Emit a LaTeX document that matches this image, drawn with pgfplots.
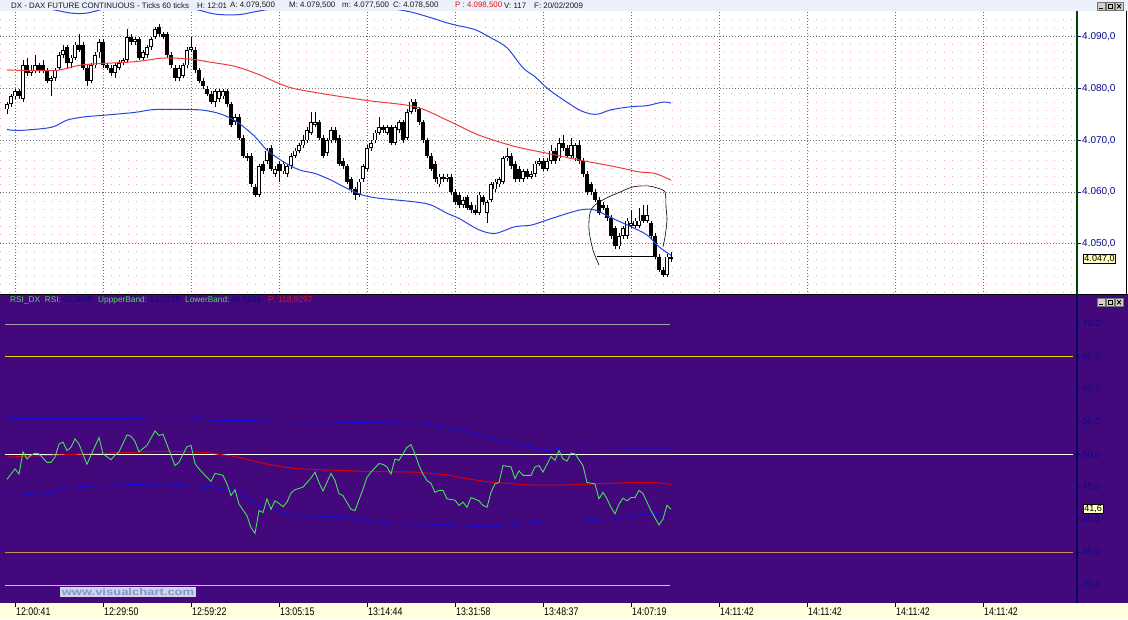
\documentclass[border=0pt]{standalone}
\usepackage{pgfplots}
\pgfplotsset{compat=1.18}
\usepackage{pgfplotstable}
\usepackage{fontspec}
\usepackage{graphicx}
\setmainfont{Liberation Sans}
\newfontfamily\narrowfont[FakeStretch=0.8]{Liberation Sans}

\definecolor{titlebg}{RGB}{236,240,250}
\definecolor{purp}{RGB}{66,8,124}
\definecolor{ystrip}{RGB}{255,255,222}
\definecolor{navy}{RGB}{10,10,140}
\definecolor{gridgray}{RGB}{110,110,110}
\definecolor{pinkdot}{RGB}{240,160,205}
\definecolor{mared}{RGB}{240,60,60}
\definecolor{bandblue}{RGB}{40,70,225}
\definecolor{rsigreen}{RGB}{70,225,90}
\definecolor{rsired}{RGB}{215,0,10}
\definecolor{rsiblue}{RGB}{15,15,215}
\definecolor{lvlgray}{RGB}{160,160,170}
\definecolor{lvlyellow}{RGB}{230,210,0}
\definecolor{lvltan}{RGB}{200,140,90}
\definecolor{lvllav}{RGB}{190,190,255}
\definecolor{lblgreen}{RGB}{80,220,100}
\definecolor{btn}{RGB}{212,208,200}
\definecolor{boxy}{RGB}{255,255,190}
\definecolor{pred}{RGB}{230,20,20}

\pgfplotstableread{
i O H L C
0 4076.0 4077.5 4075.0 4077.0
1 4077.0 4079.0 4076.5 4078.5
2 4078.5 4080.0 4078.0 4079.5
3 4079.5 4080.0 4078.0 4078.5
4 4078.0 4085.5 4077.5 4084.5
5 4084.5 4086.0 4082.5 4083.0
6 4083.0 4084.5 4082.5 4083.5
7 4083.5 4086.5 4083.0 4084.5
8 4084.5 4085.0 4083.0 4083.5
9 4084.5 4085.5 4083.0 4083.5
10 4083.5 4084.0 4081.0 4081.5
11 4081.5 4082.5 4078.5 4082.0
12 4082.0 4084.0 4081.5 4083.5
13 4084.0 4087.0 4083.5 4086.5
14 4086.5 4088.5 4086.0 4087.5
15 4088.0 4088.5 4084.0 4085.0
16 4085.0 4086.5 4084.0 4086.0
17 4086.0 4089.0 4085.5 4088.5
18 4088.5 4090.5 4087.0 4087.5
19 4088.5 4089.0 4083.5 4084.0
20 4084.0 4084.5 4080.5 4081.5
21 4081.5 4085.0 4081.0 4084.5
22 4084.5 4087.0 4084.0 4086.5
23 4087.0 4089.5 4086.0 4089.0
24 4089.0 4089.5 4084.0 4084.5
25 4084.5 4085.0 4083.5 4084.0
26 4084.0 4084.5 4082.5 4083.0
27 4083.0 4085.0 4082.0 4084.5
28 4084.0 4085.5 4083.5 4085.0
29 4085.0 4086.0 4084.5 4085.5
30 4085.5 4091.5 4085.0 4090.0
31 4090.0 4090.5 4088.5 4089.0
32 4089.0 4090.0 4088.5 4089.5
33 4089.5 4090.0 4085.5 4086.0
34 4086.0 4087.5 4085.5 4087.0
35 4086.5 4088.5 4086.0 4088.0
36 4088.0 4090.0 4087.5 4089.5
37 4090.0 4092.0 4089.5 4091.5
38 4092.0 4092.5 4090.0 4090.5
39 4090.5 4091.0 4089.5 4090.0
40 4090.5 4091.0 4086.0 4086.5
41 4086.5 4087.0 4084.0 4084.5
42 4084.0 4084.5 4081.5 4082.0
43 4082.0 4084.5 4081.5 4084.0
44 4082.5 4085.0 4082.0 4084.5
45 4084.5 4088.0 4084.0 4087.5
46 4087.5 4090.0 4087.0 4088.0
47 4087.5 4088.0 4083.0 4083.5
48 4083.5 4084.0 4081.0 4081.5
49 4081.5 4082.0 4080.0 4080.5
50 4080.0 4080.5 4078.5 4079.0
51 4079.0 4079.5 4077.0 4077.5
52 4077.5 4080.0 4076.5 4079.5
53 4078.0 4080.0 4077.5 4079.5
54 4078.5 4080.0 4078.0 4079.5
55 4079.5 4080.0 4076.5 4077.0
56 4077.0 4077.5 4072.5 4073.0
57 4073.5 4075.0 4073.0 4074.5
58 4074.5 4075.0 4070.0 4070.5
59 4070.5 4071.0 4066.5 4067.0
60 4067.0 4067.5 4066.0 4066.5
61 4067.0 4067.5 4061.0 4061.5
62 4061.0 4061.5 4059.0 4059.5
63 4059.5 4065.5 4059.0 4065.0
64 4065.5 4066.0 4063.5 4064.0
65 4066.0 4068.5 4065.5 4068.0
66 4068.5 4069.0 4064.0 4064.5
67 4063.5 4065.0 4063.0 4064.5
68 4065.5 4066.0 4062.0 4064.0
69 4064.0 4066.0 4063.5 4065.5
70 4063.5 4065.5 4063.0 4065.0
71 4065.0 4067.5 4064.5 4067.0
72 4067.0 4068.5 4066.5 4068.0
73 4068.0 4069.5 4067.5 4069.0
74 4069.0 4071.0 4068.5 4070.0
75 4070.0 4072.5 4069.5 4072.0
76 4071.5 4075.5 4071.0 4073.5
77 4073.0 4075.5 4072.5 4073.5
78 4073.5 4074.0 4070.0 4070.5
79 4070.5 4071.0 4066.5 4067.0
80 4067.5 4070.5 4067.0 4070.0
81 4070.0 4072.5 4069.5 4072.0
82 4072.0 4072.5 4069.5 4070.0
83 4070.5 4071.0 4065.0 4065.5
84 4066.0 4066.5 4064.5 4065.0
85 4065.0 4065.5 4061.5 4062.0
86 4062.5 4063.0 4060.0 4060.5
87 4060.5 4061.0 4058.5 4059.5
88 4059.5 4062.5 4059.0 4062.0
89 4062.5 4065.5 4062.0 4065.0
90 4064.5 4069.0 4064.0 4068.5
91 4068.5 4070.0 4068.0 4069.5
92 4070.0 4072.0 4069.5 4071.5
93 4071.5 4074.5 4071.0 4072.5
94 4072.5 4073.0 4071.5 4072.0
95 4071.5 4073.0 4071.0 4072.5
96 4072.5 4073.0 4069.0 4069.5
97 4069.5 4073.0 4069.0 4072.5
98 4072.0 4074.0 4071.5 4073.5
99 4073.5 4074.0 4069.5 4070.0
100 4070.5 4076.0 4070.0 4075.5
101 4075.5 4078.0 4075.0 4077.5
102 4077.5 4078.0 4075.5 4076.0
103 4076.0 4076.5 4073.0 4073.5
104 4073.5 4074.0 4069.5 4070.0
105 4070.0 4070.5 4066.5 4067.0
106 4067.0 4067.5 4064.0 4064.5
107 4065.5 4066.0 4062.0 4062.5
108 4061.5 4063.5 4061.0 4063.0
109 4063.0 4063.5 4062.0 4062.5
110 4062.5 4063.5 4062.0 4063.0
111 4063.0 4063.5 4059.5 4060.0
112 4060.0 4060.5 4057.5 4058.0
113 4059.5 4060.0 4057.0 4057.5
114 4057.5 4059.0 4057.0 4058.5
115 4059.0 4059.5 4056.5 4057.0
116 4057.5 4058.0 4056.0 4056.5
117 4056.5 4057.5 4055.5 4056.0
118 4056.0 4060.0 4055.5 4059.5
119 4059.0 4059.5 4057.5 4058.0
120 4056.0 4058.5 4054.0 4058.0
121 4058.5 4062.0 4058.0 4061.5
122 4060.5 4062.5 4060.0 4062.0
123 4061.5 4063.0 4061.0 4062.5
124 4062.0 4067.0 4061.5 4066.5
125 4066.5 4068.5 4066.0 4067.0
126 4067.0 4067.5 4064.5 4065.0
127 4065.5 4066.0 4062.0 4062.5
128 4064.5 4065.0 4062.0 4062.5
129 4062.5 4064.5 4062.0 4064.0
130 4064.0 4064.5 4062.5 4063.0
131 4063.0 4064.0 4062.5 4063.5
132 4063.5 4066.0 4063.0 4065.5
133 4065.5 4066.5 4065.0 4066.0
134 4066.0 4066.5 4064.0 4064.5
135 4064.5 4066.5 4064.0 4066.0
136 4066.0 4069.0 4065.5 4068.0
137 4068.0 4068.5 4065.5 4066.0
138 4066.5 4070.5 4066.0 4069.5
139 4069.5 4071.0 4068.0 4068.5
140 4068.5 4069.0 4066.5 4067.0
141 4067.0 4070.5 4066.5 4069.0
142 4066.5 4069.5 4066.0 4069.0
143 4069.0 4070.0 4065.5 4066.0
144 4066.0 4066.5 4063.0 4063.5
145 4063.5 4064.0 4059.5 4060.0
146 4061.5 4062.0 4059.5 4060.0
147 4060.0 4060.5 4058.0 4058.5
148 4058.5 4059.0 4055.5 4056.0
149 4057.5 4058.0 4056.5 4057.0
150 4057.0 4057.5 4054.5 4055.0
151 4055.0 4055.5 4051.0 4051.5
152 4053.0 4053.5 4049.0 4049.5
153 4049.5 4052.0 4049.0 4051.5
154 4051.5 4053.5 4051.0 4053.0
155 4051.5 4055.0 4051.0 4054.5
156 4053.5 4056.5 4053.0 4054.0
157 4053.5 4055.0 4053.0 4054.5
158 4053.5 4057.0 4053.0 4054.5
159 4055.5 4057.5 4054.0 4054.5
160 4054.5 4057.5 4054.0 4055.5
161 4054.0 4054.5 4051.0 4051.5
162 4051.5 4052.0 4047.0 4047.5
163 4047.5 4048.0 4044.5 4045.0
164 4045.0 4045.5 4043.5 4044.0
165 4044.0 4048.0 4043.5 4047.5
166 4047.5 4048.5 4046.5 4047.0
}\candles

\pgfplotstableread{
i v
0 46.2
2 47.8
3 47.0
4 50.4
5 49.3
6 49.9
7 50.2
8 50.1
10 48.8
11 48.8
12 49.6
13 51.6
14 51.9
15 50.6
16 51.1
17 52.4
18 51.6
20 48.5
21 49.9
23 52.6
24 50.1
26 49.2
27 49.9
28 50.4
30 53.0
31 52.8
32 52.0
33 50.4
35 51.4
37 53.6
38 52.9
39 53.1
41 49.9
42 48.3
43 48.8
45 51.2
46 51.4
47 48.6
48 47.8
50 46.5
51 45.9
52 47.1
54 46.8
55 45.5
56 43.7
57 44.6
58 42.4
60 40.6
61 38.8
62 37.9
63 41.4
64 41.1
65 43.2
66 41.6
67 42.9
68 42.5
69 42.0
70 42.7
71 44.1
72 44.6
74 45.0
76 46.4
77 47.3
78 45.7
79 44.4
81 47.1
82 46.0
83 44.0
84 43.7
86 41.6
87 41.4
89 44.7
90 46.5
91 47.3
93 48.6
94 48.5
95 48.1
96 47.0
97 49.3
98 49.1
99 50.1
100 51.1
101 51.5
102 50.1
103 48.3
104 47.0
105 46.0
106 45.6
107 44.2
108 44.5
109 44.5
110 43.2
112 43.0
113 42.2
114 42.7
115 41.9
116 43.4
118 42.9
119 42.2
120 41.9
121 44.2
122 45.5
123 45.7
124 48.3
126 48.1
127 46.3
128 47.5
129 46.8
131 46.8
132 48.1
133 48.3
134 47.3
136 49.7
137 49.1
138 50.6
139 49.3
140 49.0
141 50.2
142 50.1
144 48.3
145 45.7
147 45.5
148 43.2
149 44.2
150 43.2
151 41.9
152 40.9
153 42.4
154 43.3
155 42.9
156 43.4
157 43.4
158 44.5
159 44.0
160 42.7
161 41.4
163 39.2
164 40.1
165 42.2
166 41.6
}\rsi

\begin{document}
\begin{tikzpicture}[x=1pt,y=1pt]
\useasboundingbox (0,0) rectangle (1128,619);
\fill[white] (0,0) rectangle (1128,619);
\fill[titlebg] (0,608) rectangle (1128,619);
\fill[purp] (0,16) rectangle (1128,324);
\fill[ystrip] (0,0) rectangle (1128,16);
\coordinate (pricepos) at (0,324);
\coordinate (rsipos) at (0,16);

% ---------------- price panel ----------------
\begin{axis}[
  at={(pricepos)}, anchor=south west, scale only axis,
  width=1077pt, height=284pt,
  y coord trafo/.code={\pgfmathparse{#1-4000}},
  y coord inv trafo/.code={\pgfmathparse{#1+4000}},
  xmin=-1.75, xmax=267.5, ymin=4040.1, ymax=4095.0,
  axis line style={draw=none},
  xtick={2,24,46,68,90,112,134,156,178,200,222,244}, xticklabels={}, xtick style={draw=none},
  ytick={4050,4060,4070,4080,4090}, ytick pos=right, yticklabel pos=right,
  minor ytick={4040.6,4042.2,4043.8,4045.4,4047.0,4048.6,4050.2,4051.8,4053.4,4055.0,4056.6,4058.2,4059.8,4061.4,4063.0,4064.6,4066.2,4067.8,4069.4,4071.0,4072.6,4074.2,4075.8,4077.4,4079.0,4080.6,4082.2,4083.8,4085.4,4087.0,4088.6,4090.2,4091.8,4093.4},
  xmajorgrids, ymajorgrids, yminorgrids,
  major grid style={draw=gridgray, dash pattern=on 1pt off 2pt, line width=0.8pt},
  minor grid style={draw=pinkdot, dash pattern=on 1pt off 7.5pt, line width=0.9pt},
  minor tick length=0pt, major tick length=4pt, tick align=outside,
  ytick style={draw=navy, line width=0.8pt},
  scaled y ticks=false,
  yticklabel style={font=\fontsize{10}{10}\selectfont, text=navy, anchor=west, inner sep=1pt,
    /pgf/number format/.cd, fixed, fixed zerofill, precision=1, use comma, 1000 sep={.}, assume math mode=true},
]
% wicks
\addplot[black, line width=0.8pt, mark=none, forget plot,
  quiver={u=0, v={\thisrow{H}-\thisrow{L}}}]
  table[x=i, y=L] {\candles};
% bodies (black)
\addplot[black, line width=3.4pt, mark=none, forget plot,
  quiver={u=0, v={abs(\thisrow{C}-\thisrow{O})}}]
  table[x=i, y expr={min(\thisrow{O},\thisrow{C})}] {\candles};
% white interior of rising bodies
\addplot[white, line width=1.5pt, mark=none, forget plot,
  quiver={u=0, v={max(\thisrow{C}-\thisrow{O}-0.3,0)}}]
  table[x=i, y expr={\thisrow{O}+0.15}] {\candles};
% moving average
\addplot[mared, line width=1pt, smooth, mark=none] coordinates {
(0,4083.6) (12,4083.5) (19,4084.6) (32,4085.2) (39,4085.9) (46,4085.7) (50,4085.2)
(57,4084.3) (63,4082.7) (68,4081.0) (73,4079.8) (89,4077.8) (102,4076.5) (110,4073.9)
(118,4071.0) (127,4068.8) (135,4067.5) (143,4066.2) (152,4064.9) (158,4063.9) (162,4063.6) (166,4062.3)};
% lower band
\addplot[bandblue, line width=1pt, smooth, mark=none] coordinates {
(0,4072.1) (3,4071.9) (11,4072.5) (15,4073.9) (19,4074.5) (25,4074.9) (32,4075.4) (36,4075.9)
(40,4076.0) (48,4075.9) (52,4075.4) (55,4074.6) (58,4073.3) (62,4070.7) (65,4068.1) (69,4065.9)
(73,4064.3) (77,4063.6) (81,4062.3) (85,4060.7) (89,4059.4) (93,4058.8) (102,4058.1) (106,4057.5)
(110,4055.9) (113,4054.9) (118,4052.7) (122,4052.0) (127,4053.3) (131,4053.6) (135,4054.6)
(139,4055.6) (143,4056.5) (146,4056.7) (148,4056.2) (152,4054.7) (156,4053.3) (160,4051.7)
(163,4049.4) (166,4047.8)};
% upper band
\addplot[bandblue, line width=1pt, smooth, mark=none] coordinates {
(0,4097.0) (10,4095.5) (16,4094.6) (20,4094.6) (25,4095.5) (35,4096.5) (46,4095.5) (52,4094.4)
(58,4094.3) (63,4095.0) (75,4096.5) (88,4096.5) (96,4095.5) (101,4094.8) (106,4093.7)
(110,4092.7) (112,4092.3) (117,4091.4) (121,4089.8) (125,4087.9) (129,4084.0) (132,4082.3)
(135,4080.1) (138,4078.4) (143,4075.9) (146,4075.1) (148,4075.1) (151,4075.9) (156,4076.5)
(160,4076.7) (164,4077.4) (166,4077.2)};
% hand-drawn annotation
\addplot[black, line width=0.6pt, smooth, mark=none] coordinates {
(148,4045.9) (146.5,4048.8) (145.5,4052.7) (145.75,4056.0) (147,4057.5) (150,4058.9)
(153.25,4060.0) (156.5,4061.0) (160,4061.2) (162.5,4060.8) (164.5,4060.0) (164.75,4057.1)
(165,4054.6) (164.5,4051.3) (164,4049.4)};
\addplot[black, line width=0.6pt, mark=none] coordinates {(147.5,4047.5) (161.5,4047.5)};
\end{axis}

% ---------------- RSI panel ----------------
\begin{axis}[
  at={(rsipos)}, anchor=south west, scale only axis,
  width=1077pt, height=308pt,
  xmin=-1.75, xmax=267.5, ymin=27.24, ymax=74.44,
  axis line style={draw=none},
  xtick={2,24,46,68,90,112,134,156,178,200,222,244},
  xticklabels={12:00:41,12:29:50,12:59:22,13:05:15,13:14:44,13:31:58,13:48:37,14:07:19,14:11:42,14:11:42,14:11:42,14:11:42},
  xtick pos=bottom, xtick style={draw=black, line width=0.8pt},
  xticklabel style={font=\narrowfont\fontsize{11}{11}\selectfont, anchor=north west, inner sep=1pt, text=black},
  ytick={30,35,...,70}, ytick pos=right, yticklabel pos=right,
  ytick style={draw=navy, line width=0.8pt},
  major tick length=4pt, tick align=outside,
  yticklabel style={font=\fontsize{9}{9}\selectfont, text=navy, anchor=west, inner sep=1.5pt,
    /pgf/number format/.cd, fixed, fixed zerofill, precision=1, use comma, assume math mode=true},
]
\addplot[lvlgray, line width=0.8pt, mark=none] coordinates {(-0.5,70) (165.75,70)};
\addplot[lvlyellow, line width=1pt, mark=none] coordinates {(-0.5,65) (266.5,65)};
\addplot[white, line width=1pt, mark=none] coordinates {(-0.5,50) (266.5,50)};
\addplot[lvltan, line width=1pt, mark=none] coordinates {(-0.5,35) (266.5,35)};
\addplot[lvllav, line width=0.8pt, mark=none] coordinates {(-0.5,30) (165.75,30)};
% upper band
\addplot[rsiblue, line width=1pt, mark=none] coordinates {
(0,55.5) (32,55.5) (38,55.7) (45,55.7) (52,55.2) (61,55.2) (65,55.1) (73,55.0) (81,55.0)
(86,54.9) (102,54.8) (106,54.5) (114,53.7) (122,52.4) (129,51.4) (135,50.6) (139,51.1)
(147,51.1) (156,51.0) (166,51.0)};
% lower band
\addplot[rsiblue, line width=1pt, mark=none] coordinates {
(0,43.8) (3,43.7) (11,44.2) (15,44.9) (19,45.1) (23,45.2) (32,45.4) (40,45.5) (48,45.2)
(52,45.0) (57,44.4) (61,42.9) (65,41.9) (69,41.1) (73,40.6) (82,40.5) (86,40.4) (89,39.9)
(97,39.4) (110,39.3) (118,38.9) (122,38.9) (127,39.3) (135,39.75) (143,39.75) (152,40.1)
(160,40.9) (166,40.6)};
% RSI moving average
\addplot[rsired, line width=1pt, mark=none] coordinates {
(0,49.6) (10,49.85) (20,50.1) (30,50.3) (40,50.5) (50,50.3) (52,50.1) (57,49.7) (61,49.1)
(65,48.5) (69,48.1) (73,47.8) (77,47.7) (81,47.6) (86,47.5) (89,47.4) (102,47.3) (106,47.1)
(110,46.9) (114,46.4) (118,46.0) (122,45.7) (127,45.5) (131,45.3) (139,45.3) (147,45.5)
(156,45.7) (162,45.7) (166,45.4)};
% RSI
\addplot[rsigreen, line width=0.9pt, mark=none] table[x=i, y=v] {\rsi};
\end{axis}

% ---------------- frame pieces ----------------
\draw[black, line width=1pt] (0,324) -- (1128,324);
\draw[black!75!green, line width=1.2pt] (1077,324) -- (1077,608);
\draw[navy!70!black, line width=1.2pt] (1077,16) -- (1077,324);
\draw[black, line width=0.8pt] (1126.5,324) -- (1126.5,608);

% title of price panel
\begin{scope}[every node/.style={inner sep=0pt, anchor=west, font=\fontsize{7.9}{9}\selectfont, text=black!90}]
\node at (11,613.5) {DX - DAX FUTURE CONTINUOUS - Ticks 60 ticks};
\node at (197,613.5) {H: 12:01};
\node at (230,613.5) {A: 4.079,500};
\node at (289,613.5) {M: 4.079,500};
\node at (342,613.5) {m: 4.077,500};
\node at (393,613.5) {C: 4.078,500};
\node[text=pred] at (455,613.5) {P : 4.098,500};
\node at (504,613.5) {V: 117};
\node at (534,613.5) {F: 20/02/2009};
\end{scope}

% title of RSI panel
\begin{scope}[every node/.style={inner sep=0pt, anchor=west, font=\fontsize{8.3}{9}\selectfont}]
\node[text=lblgreen] at (10,319) {RSI\_DX\ \ RSI:};
\node[text=navy] at (62,319) {45,3806};
\node[text=lblgreen] at (98,319) {UppperBand:};
\node[text=navy] at (150,319) {51,0226};
\node[text=lblgreen] at (185,319) {LowerBand:};
\node[text=navy] at (231,319) {40,5834};
\node[text=pred] at (268,319) {P: 118,9297};
\end{scope}

% window buttons
\foreach \by in {609,313} {
  \foreach \bx in {1097,1106,1115} {
    \filldraw[fill=btn, draw=black!55, line width=0.5pt] (\bx,\by) rectangle ++(8,7.5);
  }
  \draw[black, line width=1pt] (1099,\by+1.8) -- (1103,\by+1.8);
  \draw[black, line width=0.7pt] (1108,\by+1.6) rectangle (1112,\by+5.8);
  \draw[black, line width=0.9pt] (1117.2,\by+1.6) -- (1121,\by+5.8) (1117.2,\by+5.8) -- (1121,\by+1.6);
}

% last value boxes
\node[draw=black, line width=0.5pt, fill=boxy, inner sep=1pt, font=\fontsize{9}{9}\selectfont] at (1099.5,360) {4.047,0};
\node[draw=black, line width=0.5pt, fill=boxy, inner sep=1pt, font=\fontsize{9}{9}\selectfont] at (1093,110) {41,6};

% watermark
\node[fill={rgb,255:red,212;green,212;blue,232}, text={rgb,255:red,130;green,150;blue,205}, inner sep=0.8pt,
  minimum width=136pt, minimum height=10pt] at (128,27) {\scalebox{1.3}[1]{\fontsize{10}{10}\selectfont\bfseries www.visualchart.com}};
\end{tikzpicture}
\end{document}
